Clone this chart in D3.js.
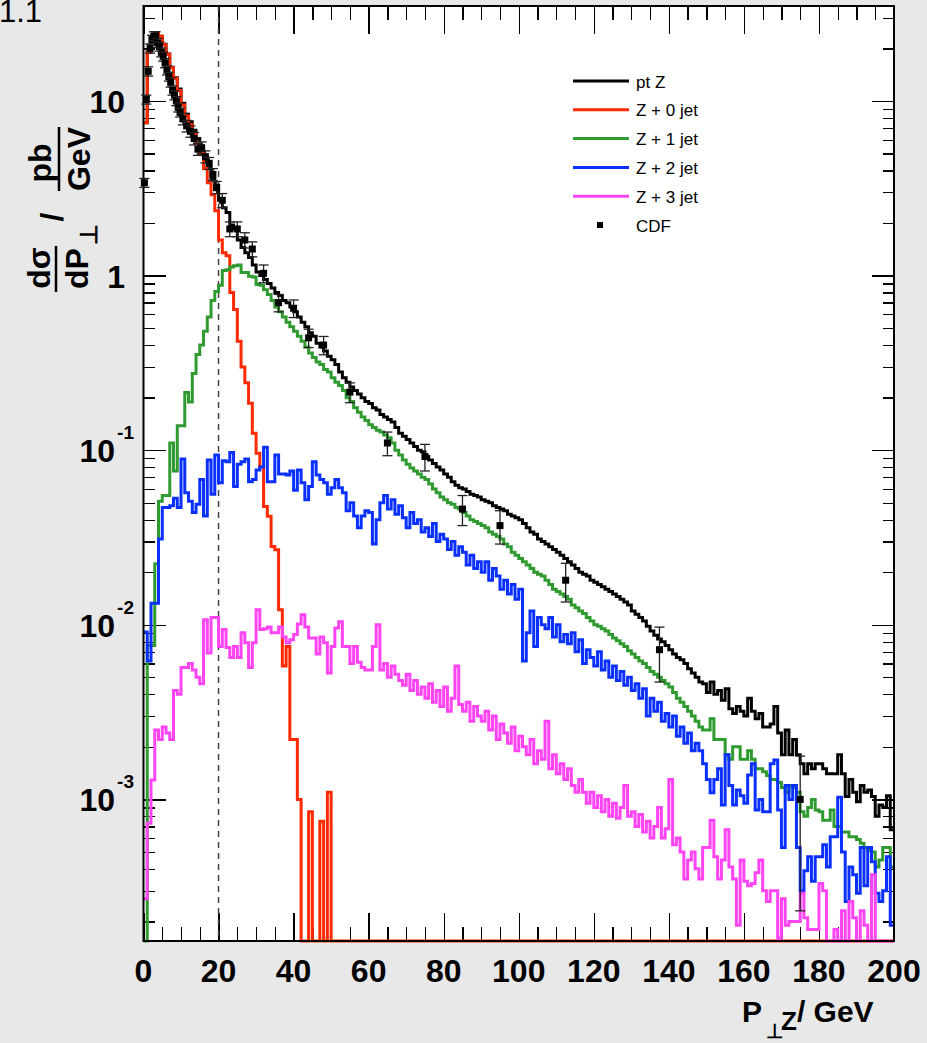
<!DOCTYPE html>
<meta charset="utf-8">
<style>
    body { margin: 0; background: #e8e8e8; }
    svg text { font-family: "Liberation Sans", Arial, Helvetica, sans-serif; }
    .axis path.domain { display: none; }
    .axis line { stroke: black; stroke-width: 1.3; shape-rendering: crispEdges; }
</style>

<svg width="927" height="1043"></svg>

<script src="https://cdn.jsdelivr.net/npm/d3@7/dist/d3.min.js"></script>

<script>
// bins of 1 GeV from 0 to 200, values in pb/GeV (0 = empty bin)
var ptZ = [
    7.5, 19, 22, 24.5, 23.5, 21.1, 18.6, 15.6, 13.6, 11.7,                              // 0
    9.7, 8.4, 7.6, 6.8, 6.1, 5.5, 4.6, 4.2, 3.6, 3.1,                                   // 10
    2.7, 2.45, 2.3, 1.95, 1.85, 1.6, 1.45, 1.35, 1.27, 1.15,                            // 20
    1.05, 1.0, 0.95, 0.9, 0.85, 0.80, 0.77, 0.72, 0.70, 0.66,                           // 30
    0.62, 0.58, 0.54, 0.51, 0.47, 0.45, 0.41, 0.39, 0.37, 0.345,                        // 40
    0.33, 0.31, 0.28, 0.26, 0.245, 0.23, 0.22, 0.21, 0.20, 0.19,                        // 50
    0.185, 0.175, 0.17, 0.16, 0.155, 0.15, 0.145, 0.135, 0.125, 0.12,                   // 60
    0.115, 0.11, 0.105, 0.10, 0.098, 0.092, 0.088, 0.084, 0.080, 0.077,                 // 70
    0.073, 0.070, 0.066, 0.063, 0.061, 0.060, 0.058, 0.056, 0.055, 0.054,               // 80
    0.052, 0.051, 0.050, 0.048, 0.047, 0.046, 0.045, 0.043, 0.042, 0.041,               // 90
    0.040, 0.038, 0.036, 0.034, 0.033, 0.031, 0.030, 0.029, 0.028, 0.027,               // 100
    0.026, 0.025, 0.024, 0.023, 0.022, 0.021, 0.020, 0.0195, 0.019, 0.018,              // 110
    0.0175, 0.017, 0.0165, 0.016, 0.0155, 0.015, 0.0145, 0.014, 0.0135, 0.013,          // 120
    0.012, 0.0115, 0.011, 0.0105, 0.0098, 0.0092, 0.0087, 0.0083, 0.0080, 0.0076,       // 130
    0.0072, 0.0068, 0.0065, 0.0063, 0.0060, 0.0056, 0.0053, 0.0050, 0.0047, 0.0046,     // 140
    0.0041, 0.0047, 0.0040, 0.0042, 0.0037, 0.0043, 0.0033, 0.0031, 0.0034, 0.0032,     // 150
    0.0030, 0.0038, 0.0032, 0.0029, 0.0031, 0.0026, 0.0026, 0.0027, 0.0034, 0.0024,     // 160
    0.0018, 0.0025, 0.0018, 0.0022, 0.0018, 0.0016, 0.0014, 0.0016, 0.0015, 0.0016,     // 170
    0.0016, 0.0015, 0.0014, 0.0014, 0.0014, 0.0018, 0.0014, 0.00104, 0.0013, 0.0011,    // 180
    0.00097, 0.0012, 0.0011, 0.00113, 0.00104, 0.0008, 0.00093, 0.0009, 0.00105, 0.00067 // 190
];
var zJet0 = [
    7.5, 19, 22, 24.5, 23.5, 21, 18.5, 15.5, 13.5, 11.5,
    9.5, 8.2, 7.3, 6.5, 5.7, 5.0, 4.1, 3.4, 2.9, 2.35,
    1.6, 1.35, 1.3, 0.80, 0.64, 0.42, 0.30, 0.243, 0.186, 0.125,
    0.096, 0.080, 0.0476, 0.0418, 0.0281, 0.0269, 0.0122, 0.0058, 0.0075, 0.0022,
    0.0022, 0.0010, 0, 0, 0.00085, 0, 0, 0.00075, 0, 0.0011,
    0, 0, 0, 0, 0, 0, 0, 0, 0, 0,
    0, 0, 0, 0, 0, 0, 0, 0, 0, 0,
    0, 0, 0, 0, 0, 0, 0, 0, 0, 0,
    0, 0, 0, 0, 0, 0, 0, 0, 0, 0,
    0, 0, 0, 0, 0, 0, 0, 0, 0, 0,
    0, 0, 0, 0, 0, 0, 0, 0, 0, 0,
    0, 0, 0, 0, 0, 0, 0, 0, 0, 0,
    0, 0, 0, 0, 0, 0, 0, 0, 0, 0,
    0, 0, 0, 0, 0, 0, 0, 0, 0, 0,
    0, 0, 0, 0, 0, 0, 0, 0, 0, 0,
    0, 0, 0, 0, 0, 0, 0, 0, 0, 0,
    0, 0, 0, 0, 0, 0, 0, 0, 0, 0,
    0, 0, 0, 0, 0, 0, 0, 0, 0, 0,
    0, 0, 0, 0, 0, 0, 0, 0, 0, 0,
    0, 0, 0, 0, 0, 0, 0, 0, 0, 0
];
var zJet1 = [
    0, 0.0076, 0.0076, 0.0224, 0.051, 0.055, 0.055, 0.11, 0.076, 0.138,
    0.138, 0.214, 0.189, 0.275, 0.353, 0.40, 0.48, 0.58, 0.72, 0.81,
    0.88, 1.07, 1.08, 1.12, 1.14, 1.15, 1.04, 1.04, 0.99, 0.98,
    0.89, 0.88, 0.83, 0.78, 0.72, 0.66, 0.62, 0.58, 0.54, 0.51,
    0.48, 0.45, 0.42, 0.39, 0.36, 0.34, 0.32, 0.31, 0.29, 0.28,
    0.26, 0.245, 0.235, 0.22, 0.20, 0.19, 0.175, 0.165, 0.155, 0.148,
    0.14, 0.135, 0.13, 0.127, 0.122, 0.118, 0.11, 0.10, 0.094, 0.088,
    0.083, 0.079, 0.076, 0.073, 0.070, 0.068, 0.064, 0.060, 0.057, 0.054,
    0.052, 0.050, 0.049, 0.047, 0.046, 0.044, 0.042, 0.040, 0.039, 0.038,
    0.037, 0.036, 0.034, 0.033, 0.032, 0.031, 0.029, 0.028, 0.026, 0.025,
    0.024, 0.023, 0.022, 0.021, 0.020, 0.0195, 0.019, 0.018, 0.017, 0.016,
    0.0155, 0.015, 0.0145, 0.014, 0.013, 0.0125, 0.012, 0.0116, 0.011, 0.0105,
    0.010, 0.0098, 0.0095, 0.0092, 0.0088, 0.0084, 0.0081, 0.0078, 0.0075, 0.0071,
    0.0068, 0.0065, 0.0062, 0.0060, 0.0057, 0.0054, 0.0052, 0.0050, 0.0048, 0.0046,
    0.0044, 0.0041, 0.0038, 0.0036, 0.0034, 0.0032, 0.0030, 0.0028, 0.0026, 0.0025,
    0.0025, 0.0029, 0.0022, 0.0022, 0.0022, 0.0018, 0.0017, 0.0020, 0.0020, 0.0017,
    0.0017, 0.0019, 0.0017, 0.0015, 0.0015, 0.00144, 0.00137, 0.0013, 0.0013, 0.00125,
    0.00117, 0.0011, 0.0012, 0.00117, 0.0011, 0.00085, 0.0008, 0.0009, 0.0010, 0.00087,
    0.00085, 0.00076, 0.00076, 0.00087, 0.0007, 0.0007, 0.00065, 0.00065, 0.00061, 0.00061,
    0.00059, 0.00056, 0.00053, 0.00051, 0.0005, 0.00041, 0.00045, 0.00053, 0.00053, 0.00041
];
var zJet2 = [
    0.0091, 0.0062, 0.0133, 0.0133, 0.031, 0.047, 0.047, 0.048, 0.053, 0.047,
    0.089, 0.057, 0.051, 0.044, 0.049, 0.068, 0.042, 0.088, 0.056, 0.094,
    0.065, 0.087, 0.086, 0.097, 0.062, 0.083, 0.086, 0.089, 0.066, 0.068,
    0.077, 0.080, 0.104, 0.066, 0.066, 0.094, 0.073, 0.073, 0.072, 0.076,
    0.059, 0.077, 0.065, 0.052, 0.062, 0.086, 0.072, 0.068, 0.065, 0.056,
    0.061, 0.068, 0.061, 0.057, 0.045, 0.050, 0.042, 0.036, 0.042, 0.045,
    0.044, 0.029, 0.040, 0.050, 0.055, 0.046, 0.052, 0.043, 0.048, 0.041,
    0.036, 0.044, 0.038, 0.040, 0.034, 0.036, 0.032, 0.038, 0.030, 0.033,
    0.031, 0.027, 0.030, 0.025, 0.028, 0.026, 0.022, 0.025, 0.021, 0.023,
    0.020, 0.023, 0.018, 0.021, 0.019, 0.016, 0.018, 0.015, 0.017, 0.014,
    0.016, 0.0062, 0.009, 0.012, 0.0075, 0.011, 0.010, 0.0095, 0.011, 0.0085,
    0.010, 0.008, 0.0088, 0.0078, 0.009, 0.007, 0.0082, 0.006, 0.0072, 0.0065,
    0.0058, 0.007, 0.0055, 0.0062, 0.005, 0.0058, 0.0048, 0.0054, 0.0045, 0.005,
    0.0042, 0.0046, 0.0038, 0.0043, 0.003, 0.0038, 0.0032, 0.0036, 0.0028, 0.0031,
    0.0026, 0.003, 0.0023, 0.0026, 0.0021, 0.0024, 0.0019, 0.0021, 0.0019, 0.0016,
    0.0013, 0.00109, 0.0013, 0.0015, 0.00093, 0.0018, 0.0012, 0.00093, 0.00113, 0.00105,
    0.00095, 0.00138, 0.0016, 0.00087, 0.001, 0.00085, 0.00085, 0.0016, 0.00168, 0.00087,
    0.00053, 0.0012, 0.001, 0.0012, 0.00053, 0.0003, 0.00039, 0.00047, 0.00034, 0.00047,
    0.00047, 0.00055, 0.00041, 0.00061, 0.00061, 0.00103, 0.0005, 0.00026, 0.00041, 0.00037,
    0.00029, 0.00053, 0.00032, 0.00053, 0.00044, 0.00029, 0.00026, 0.0003, 0.00047, 0.00019
];
var zJet3 = [
    0.00027, 0.00073, 0.00129, 0.0025, 0.0022, 0.0026, 0.0024, 0.0022, 0.0042, 0.004,
    0.0057, 0.0057, 0.006, 0.0055, 0.005, 0.0046, 0.0107, 0.0069, 0.011, 0.011,
    0.0075, 0.0094, 0.0074, 0.0065, 0.0075, 0.0065, 0.009, 0.0079, 0.0057, 0.0079,
    0.0122, 0.0094, 0.0095, 0.0097, 0.009, 0.009, 0.0097, 0.0085, 0.0079, 0.0082,
    0.0088, 0.0101, 0.0114, 0.0097, 0.0084, 0.0084, 0.0068, 0.0085, 0.0079, 0.0053,
    0.0075, 0.0096, 0.0104, 0.0075, 0.0075, 0.006, 0.0075, 0.0061, 0.0057, 0.0055,
    0.0055, 0.0075, 0.010, 0.0055, 0.006, 0.005, 0.0058, 0.0052, 0.0048, 0.0045,
    0.0052, 0.0042, 0.0048, 0.004, 0.0044, 0.0038, 0.0046, 0.0036, 0.0042, 0.0034,
    0.0044, 0.0032, 0.0038, 0.0058, 0.0035, 0.0032, 0.0036, 0.0028, 0.0034, 0.0030,
    0.0028, 0.0032, 0.0025, 0.003, 0.0022, 0.0027, 0.0024, 0.0021, 0.0026, 0.0019,
    0.0023, 0.002, 0.0018, 0.0022, 0.0016, 0.0019, 0.0017, 0.0028, 0.0015, 0.0018,
    0.0014, 0.0016, 0.0013, 0.0015, 0.0012, 0.0011, 0.0013, 0.0011, 0.00095, 0.0011,
    0.0009, 0.00105, 0.00085, 0.001, 0.0008, 0.00095, 0.00078, 0.0009, 0.0012, 0.0008,
    0.00085, 0.0007, 0.00082, 0.00065, 0.00075, 0.0006, 0.0007, 0.0009, 0.0006, 0.00068,
    0.0013, 0.00055, 0.0006, 0.0005, 0.00035, 0.00045, 0.0005, 0.0004, 0.00035, 0.00053,
    0.00053, 0.00076, 0.00047, 0.00035, 0.00045, 0.00067, 0.00041, 0.00035, 0.00019, 0.00045,
    0.00034, 0.00032, 0.00033, 0.00038, 0.00045, 0.0003, 0.00026, 0.0003, 0.0003, 0.00016,
    0.00027, 0.00019, 0.0002, 0.0002, 0.0002, 0.00029, 0.00021, 0.00018, 0.00018, 0.00018,
    0.00033, 0.0003, 0, 0, 0.00018, 0, 0.00023, 0, 0.00026, 0.00021,
    0, 0.00023, 0.00019, 0, 0.00037, 0, 0, 0, 0, 0
];

// CDF data points (GeV, pb/GeV, error)
var cdfPt = [0.25, 0.75, 1.25, 1.75, 2.25, 2.75, 3.25, 3.75, 4.25, 4.75,
    5.25, 5.75, 6.25, 6.75, 7.25, 7.75, 8.25, 8.75, 9.25, 9.75,
    10.5, 11.5, 12.5, 13.5, 14.5, 15.5, 16.5, 17.5, 18.5, 19.5,
    21, 23, 25, 27, 29, 32, 36, 40, 44, 48,
    55, 65, 75, 85, 95, 112.5, 137.5, 175];
var cdfVal = [3.4, 10.2, 14.8, 20, 22.5, 23.5, 23.5, 21.5, 20.5, 19,
    18, 16.5, 15, 13.8, 12.8, 11.5, 10.8, 10, 9.2, 8.6,
    7.9, 7.2, 6.7, 6.1, 5.3, 5.4, 4.8, 4.4, 3.8, 3.2,
    2.7, 1.85, 1.85, 1.6, 1.42, 1.03, 0.70, 0.65, 0.44, 0.40,
    0.215, 0.11, 0.092, 0.046, 0.037, 0.018, 0.0072, 0.001];
var cdfErr = [0.2, 0.6, 0.9, 1.2, 1.3, 1.4, 1.4, 1.3, 1.2, 1.1,
    1.1, 1.0, 0.9, 0.8, 0.8, 0.7, 0.65, 0.6, 0.55, 0.5,
    0.6, 0.55, 0.5, 0.5, 0.42, 0.43, 0.38, 0.35, 0.3, 0.26,
    0.25, 0.18, 0.18, 0.16, 0.14, 0.12, 0.08, 0.075, 0.053, 0.048,
    0.028, 0.017, 0.016, 0.009, 0.008, 0.0045, 0.0025, 0.00077];

var legendNames = ["pt Z", "Z + 0 jet", "Z + 1 jet", "Z + 2 jet", "Z + 3 jet", "CDF"];
var xMajorTicks = [0, 20, 40, 60, 80, 100, 120, 140, 160, 180, 200];
var yDecades = [0.001, 0.01, 0.1, 1, 10];
var yDecadeLabels = [["10", "-3"], ["10", "-2"], ["10", "-1"], ["1", ""], ["10", ""]];

(function () {
    var svg = d3.select("svg"),
        left = 143.5, right = 894, top = 6, bottom = 941,
        binW = 1,
        yMin = 1.545e-4, yMax = 35,
        x = d3.scaleLinear().domain([0, 200]).range([left, right]),
        y = d3.scaleLog().domain([yMin, yMax]).range([bottom, top]),
        colors = ["#000000", "#ff2a00", "#2f9a30", "#0a30ff", "#ff44f4"],
        series = [ptZ, zJet0, zJet1, zJet2, zJet3];

    svg.append("rect")
        .attr("x", left).attr("y", top)
        .attr("width", right - left).attr("height", bottom - top)
        .attr("fill", "white");

    // minor / major ticks, pointing inside the frame
    var xMinor = d3.range(0, 201, 5).filter(function (v) { return v % 20 !== 0; });
    var yMinor = [];
    [1e-4, 1e-3, 1e-2, 1e-1, 1, 10].forEach(function (d) {
        d3.range(2, 10).forEach(function (m) {
            var v = d * m;
            if (v > yMin && v < yMax) yMinor.push(v);
        });
    });

    function addAxis(axis, tr) {
        var g = svg.append("g").attr("class", "axis")
            .attr("transform", "translate(" + tr + ")")
            .call(axis);
        g.selectAll("text").remove();
        return g;
    }
    addAxis(d3.axisBottom(x).tickValues(xMinor).tickSize(-14), [0, bottom]);
    addAxis(d3.axisBottom(x).tickValues(xMajorTicks).tickSize(-28), [0, bottom]);
    addAxis(d3.axisTop(x).tickValues(xMinor).tickSize(-14), [0, top]);
    addAxis(d3.axisTop(x).tickValues(xMajorTicks).tickSize(-28), [0, top]);
    addAxis(d3.axisLeft(y).tickValues(yMinor).tickSize(-11), [left, 0]);
    addAxis(d3.axisLeft(y).tickValues(yDecades).tickSize(-22), [left, 0]);
    addAxis(d3.axisRight(y).tickValues(yMinor).tickSize(-11), [right, 0]);
    addAxis(d3.axisRight(y).tickValues(yDecades).tickSize(-22), [right, 0]);

    // x tick labels
    svg.append("g").selectAll("text")
        .data(xMajorTicks)
        .enter().append("text")
        .attr("x", function (d) { return x(d); })
        .attr("y", 982)
        .attr("text-anchor", "middle")
        .attr("font-size", 32).attr("font-weight", "bold")
        .text(function (d) { return d; });

    // y tick labels with exponents
    var yl = svg.append("g").selectAll("text")
        .data(yDecades)
        .enter().append("text")
        .attr("y", function (d) { return y(d) + 12; })
        .attr("font-size", 32).attr("font-weight", "bold")
        .attr("text-anchor", "end")
        .attr("x", function (d, i) { return yDecadeLabels[i][1] ? 134 : 125; });
    yl.append("tspan").text(function (d, i) { return yDecadeLabels[i][0]; });
    yl.append("tspan")
        .attr("font-size", 19).attr("dy", -23).attr("dx", 2)
        .text(function (d, i) { return yDecadeLabels[i][1]; });

    // dashed line at 20 GeV
    svg.append("line")
        .attr("x1", x(20)).attr("x2", x(20))
        .attr("y1", top).attr("y2", bottom)
        .attr("stroke", "#444").attr("stroke-width", 1.5)
        .attr("stroke-dasharray", "6,5");

    svg.append("clipPath").attr("id", "frame")
        .append("rect")
        .attr("x", left - 2).attr("y", top)
        .attr("width", right - left + 4).attr("height", bottom - top + 3);

    function histPath(vals) {
        var p = d3.path();
        vals.forEach(function (v, i) {
            var yy = y(Math.max(v, yMin));
            if (i === 0) p.moveTo(x(0), yy);
            else p.lineTo(x(i * binW), yy);
            p.lineTo(x((i + 1) * binW), yy);
        });
        return p.toString();
    }

    svg.append("g").attr("clip-path", "url(#frame)")
        .selectAll("path")
        .data(series)
        .enter().append("path")
        .attr("d", histPath)
        .attr("fill", "none")
        .attr("stroke", function (d, i) { return colors[i]; })
        .attr("stroke-width", 3)
        .attr("stroke-linejoin", "miter");

    // frame
    svg.append("rect")
        .attr("x", left).attr("y", top)
        .attr("width", right - left).attr("height", bottom - top)
        .attr("fill", "none").attr("stroke", "black").attr("stroke-width", 2);

    // CDF points with error bars
    var pts = svg.append("g").selectAll("g")
        .data(cdfPt)
        .enter().append("g");
    pts.append("line")
        .attr("x1", function (d) { return x(d); })
        .attr("x2", function (d) { return x(d); })
        .attr("y1", function (d, i) { return y(cdfVal[i] + cdfErr[i]); })
        .attr("y2", function (d, i) { return y(Math.max(cdfVal[i] - cdfErr[i], yMin)); })
        .attr("stroke", "#222").attr("stroke-width", 1.3);
    [1, -1].forEach(function (s) {
        pts.append("line")
            .attr("x1", function (d) { return x(d) - 5; })
            .attr("x2", function (d) { return x(d) + 5; })
            .attr("y1", function (d, i) { return y(Math.max(cdfVal[i] + s * cdfErr[i], yMin)); })
            .attr("y2", function (d, i) { return y(Math.max(cdfVal[i] + s * cdfErr[i], yMin)); })
            .attr("stroke", "#222").attr("stroke-width", 1.3);
    });
    pts.append("rect")
        .attr("x", function (d) { return x(d) - 3.5; })
        .attr("y", function (d, i) { return y(cdfVal[i]) - 3.5; })
        .attr("width", 7).attr("height", 7)
        .attr("fill", "black");

    // legend
    var leg = svg.append("g").selectAll("g")
        .data(legendNames)
        .enter().append("g")
        .attr("transform", function (d, i) { return "translate(0," + (81 + i * 28.8) + ")"; });
    leg.filter(function (d, i) { return i < 5; })
        .append("line")
        .attr("x1", 573).attr("x2", 629)
        .attr("stroke", function (d, i) { return colors[i]; })
        .attr("stroke-width", 3);
    leg.filter(function (d, i) { return i === 5; })
        .append("rect")
        .attr("x", 597).attr("y", -3).attr("width", 6).attr("height", 6)
        .attr("fill", "black");
    leg.append("text")
        .attr("x", 636).attr("y", 6.5)
        .attr("font-size", 17)
        .text(function (d) { return d; });

    // y title: d sigma / dP_perp  /  pb / GeV (rotated)
    var yt = svg.append("g").attr("transform", "rotate(-90)")
        .attr("font-weight", "bold").attr("font-size", 32);
    yt.append("text").attr("x", -268).attr("y", 50).attr("text-anchor", "middle").text("d\u03c3");
    yt.append("line").attr("x1", -292).attr("x2", -246).attr("y1", 56).attr("y2", 56)
        .attr("stroke", "black").attr("stroke-width", 2.5);
    var dp = yt.append("text").attr("x", -289).attr("y", 88);
    dp.append("tspan").text("dP");
    dp.append("tspan").attr("font-size", 24).attr("dy", 9).attr("dx", 3).text("\u22a5");
    yt.append("text").attr("x", -217).attr("y", 63).attr("text-anchor", "middle").text("/");
    yt.append("text").attr("x", -163).attr("y", 51).attr("text-anchor", "middle").text("pb");
    yt.append("line").attr("x1", -191).attr("x2", -127).attr("y1", 59).attr("y2", 59)
        .attr("stroke", "black").attr("stroke-width", 2.5);
    yt.append("text").attr("x", -159).attr("y", 90).attr("text-anchor", "middle").text("GeV");

    // x title
    var xt = svg.append("text").attr("x", 742).attr("y", 1022)
        .attr("font-weight", "bold").attr("font-size", 30);
    xt.append("tspan").text("P");
    xt.append("tspan").attr("font-size", 20).attr("dx", 4).attr("dy", 16).text("\u22a5");
    xt.append("tspan").attr("font-size", 26).attr("dx", -2).attr("dy", -8).text("Z");
    xt.append("tspan").attr("dy", -8).text("/ GeV");

    // leftover label in the corner
    svg.append("text").attr("x", -1).attr("y", 22)
        .attr("font-size", 31)
        .text("1.1");
})();
</script>
